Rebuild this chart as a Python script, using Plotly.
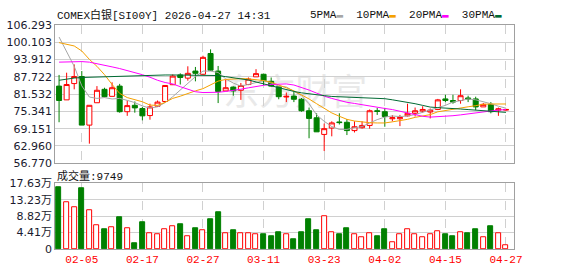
import plotly.graph_objects as go

dates = ["02-02", "02-03", "02-04", "02-05", "02-06", "02-09", "02-10", "02-11", "02-12", "02-13",
         "02-16", "02-17", "02-18", "02-19", "02-20", "02-23", "02-24", "02-25", "02-26", "02-27",
         "03-02", "03-03", "03-04", "03-05", "03-06", "03-09", "03-10", "03-11", "03-12", "03-13",
         "03-16", "03-17", "03-18", "03-19", "03-20", "03-23", "03-24", "03-25", "03-26", "03-27",
         "03-30", "03-31", "04-01", "04-02", "04-06", "04-07", "04-08", "04-09", "04-10", "04-13",
         "04-14", "04-15", "04-16", "04-17", "04-20", "04-21", "04-22", "04-23", "04-24", "04-27"]

opens = [84.41, 79.48, 85.32, 87.84, 70.43, 78.45, 83.26, 80.74, 84.41, 75.24,
         77.53, 76.38, 73.86, 77.20, 78.90, 84.90, 88.42, 87.27, 89.80, 88.65,
         96.09, 89.80, 82.69, 84.06, 82.92, 84.98, 87.73, 88.65, 86.12, 84.18,
         80.50, 80.85, 79.70, 75.58, 73.06, 67.10, 69.39, 71.57, 71.45, 68.47,
         69.50, 70.31, 75.58, 75.24, 72.71, 72.71, 73.75, 74.66, 75.47, 75.12,
         76.04, 79.82, 79.25, 79.25, 80.16, 79.82, 76.96, 77.87, 75.81, 75.81]
highs = [88.42, 89.22, 92.20, 89.80, 77.53, 84.41, 83.83, 85.78, 85.21, 79.25,
         78.90, 76.96, 78.10, 79.25, 84.63, 88.60, 88.99, 91.51, 91.28, 95.30,
         97.58, 91.63, 86.70, 84.30, 85.55, 87.50, 90.48, 88.88, 87.50, 84.41,
         82.11, 82.69, 80.16, 76.73, 74.66, 70.99, 71.80, 74.66, 72.60, 71.80,
         71.80, 76.04, 76.61, 76.61, 73.98, 74.09, 78.10, 76.73, 77.20, 76.38,
         79.82, 81.31, 81.31, 83.26, 80.97, 80.62, 78.33, 78.68, 76.73, 76.27]
lows = [71.46, 79.48, 83.26, 70.43, 63.78, 78.45, 80.40, 80.74, 74.89, 73.75,
        74.89, 72.14, 72.37, 76.96, 78.68, 84.80, 84.98, 86.35, 86.12, 88.42,
        89.80, 78.33, 82.69, 80.97, 79.48, 84.75, 87.73, 84.75, 84.18, 79.70,
        78.68, 78.68, 75.24, 65.72, 68.02, 61.14, 66.41, 70.65, 66.87, 67.80,
        69.16, 69.16, 74.09, 69.85, 71.80, 70.08, 73.52, 73.52, 74.89, 72.83,
        75.81, 78.68, 78.10, 78.10, 78.68, 75.81, 76.96, 74.66, 73.75, 75.58]
closes = [79.25, 84.98, 87.84, 70.43, 77.53, 82.92, 80.62, 83.83, 75.24, 77.42,
          76.61, 73.75, 76.96, 78.68, 84.63, 88.00, 87.50, 88.99, 88.99, 94.72,
          90.13, 82.46, 83.83, 82.69, 84.63, 86.93, 88.88, 86.35, 84.41, 80.62,
          80.74, 79.70, 75.58, 72.83, 68.02, 69.16, 71.22, 71.34, 68.47, 69.85,
          70.31, 75.58, 75.35, 73.52, 73.06, 73.17, 74.66, 75.58, 76.04, 75.81,
          79.48, 79.25, 78.68, 80.97, 79.82, 76.96, 77.87, 75.24, 76.27, 76.04]

ma5 = [102.0, 97.0, 91.5, 84.5, 80.5, 80.0, 80.3, 79.8, 80.0, 79.3,
       78.5, 77.3, 76.5, 77.0, 78.5, 80.6, 83.0, 85.5, 87.8, 89.8,
       89.8, 89.3, 87.0, 85.5, 84.4, 85.0, 85.8, 86.4, 85.5, 84.4,
       84.1, 82.7, 81.0, 78.1, 74.1, 71.8, 69.9, 68.9, 68.9, 69.5,
       69.9, 71.2, 72.4, 73.3, 73.7, 73.5, 73.7, 74.2, 75.1, 75.8,
       76.7, 77.5, 78.7, 79.2, 79.8, 79.5, 78.9, 78.1, 77.2, 76.5]
ma10 = [100.0, 99.3, 98.8, 97.0, 94.0, 91.5, 88.5, 85.0, 81.8, 80.3,
        79.6, 78.8, 77.6, 77.5, 78.6, 80.0, 80.8, 81.8, 82.7, 83.5,
        85.0, 86.2, 86.8, 87.0, 87.1, 87.0, 86.8, 86.4, 85.8, 84.9,
        83.8, 82.7, 81.3, 79.8, 78.1, 76.3, 74.8, 73.6, 72.5, 71.9,
        71.5, 71.3, 71.2, 71.2, 71.6, 72.0, 72.5, 73.2, 73.8, 74.2,
        75.2, 75.7, 76.0, 76.5, 77.0, 77.4, 77.9, 78.0, 78.0, 78.0]
ma20 = [93.0, 93.1, 93.3, 93.2, 93.0, 92.5, 92.0, 91.3, 90.7, 90.0,
        89.2, 88.5, 87.6, 86.5, 85.7, 85.2, 84.2, 83.2, 82.4, 82.1,
        82.1, 82.2, 82.5, 82.8, 83.3, 83.8, 84.3, 84.7, 85.0, 85.2,
        85.2, 84.8, 84.0, 83.0, 81.9, 80.8, 80.0, 79.3, 78.6, 78.2,
        77.7, 77.2, 76.8, 76.4, 76.0, 75.4, 74.9, 74.3, 73.6, 73.3,
        73.4, 73.5, 73.8, 74.1, 74.5, 74.9, 75.2, 75.5, 75.8, 76.0]
ma30 = [86.5, 87.0, 87.3, 87.5, 87.6, 87.7, 87.8, 87.9, 88.0, 88.1,
        88.2, 88.3, 88.3, 88.3, 88.4, 88.4, 88.4, 88.4, 88.4, 88.4,
        88.4, 88.2, 87.8, 87.4, 87.0, 86.6, 85.9, 85.2, 84.4, 83.7,
        83.1, 82.5, 82.0, 81.6, 81.3, 81.0, 80.7, 80.6, 80.4, 80.3,
        80.2, 80.1, 80.0, 79.9, 79.5, 79.1, 78.6, 78.1, 77.5, 76.9,
        76.7, 76.6, 76.5, 76.2, 76.0, 75.8, 75.6, 75.4, 75.1, 75.0]

# volume in 万 (10k lots)
volumes = [16.44, 12.60, 11.33, 16.18, 10.48, 6.47, 5.20, 5.88, 8.52, 5.62,
           1.62, 7.24, 4.34, 3.92, 5.37, 6.13, 6.73, 3.32, 5.62, 5.11,
           8.00, 9.79, 4.34, 4.94, 4.17, 4.34, 3.92, 3.92, 3.41, 4.60,
           4.09, 2.64, 4.60, 8.00, 4.94, 8.77, 4.60, 4.09, 5.45, 4.09,
           3.07, 4.34, 3.41, 5.20, 1.87, 3.83, 5.37, 3.92, 3.07, 3.92,
           4.85, 3.92, 3.41, 4.60, 4.17, 5.20, 3.07, 6.22, 4.34, 0.9749]

price_ticks = [56.770, 62.960, 69.151, 75.341, 81.532, 87.722, 93.912, 100.103, 106.293]
vol_ticks = [0, 4.41, 8.82, 13.23, 17.63]
vol_ticktext = ["0", "4.41万", "8.82万", "13.23万", "17.63万"]
date_tick_idx = [3, 11, 19, 27, 35, 43, 51, 59]
title_text = "COMEX白银[SI00Y] 2026-04-27 14:31"
last_volume_text = "9749"

RED = "#ff0000"
GREEN = "#008000"
W, H = 578, 276

xs = list(range(len(dates)))
up = [c >= o for o, c in zip(opens, closes)]

fig = go.Figure()

fig.add_trace(go.Candlestick(
    x=xs, open=opens, high=highs, low=lows, close=closes,
    xaxis="x", yaxis="y",
    increasing=dict(line=dict(color=RED, width=1), fillcolor="#ffffff"),
    decreasing=dict(line=dict(color=GREEN, width=1), fillcolor=GREEN),
    whiskerwidth=0, showlegend=False, hoverinfo="skip",
))

for vals, col in [(ma5, "#a6a6a6"), (ma10, "#f5a100"), (ma20, "#ff00ff"), (ma30, "#006a33")]:
    fig.add_trace(go.Scatter(x=xs, y=vals, mode="lines", line=dict(color=col, width=1),
                             xaxis="x", yaxis="y", showlegend=False, hoverinfo="skip"))

fig.add_trace(go.Bar(
    x=xs, y=volumes, xaxis="x2", yaxis="y2", width=0.66,
    marker=dict(color=["#ffffff" if u else GREEN for u in up],
                line=dict(color=[RED if u else GREEN for u in up], width=1)),
    showlegend=False, hoverinfo="skip",
))

xl, xr = 56 / W, 522 / W
xrange = [-0.52, len(dates) - 1 + 1.04]
date_ticktext = [dates[i] for i in date_tick_idx]

axis_common = dict(showline=True, mirror=True, linecolor="#a0a0a0", linewidth=1,
                   zeroline=False, ticks="", fixedrange=True)

fig.update_layout(
    width=W, height=H, margin=dict(l=0, r=0, t=0, b=0),
    paper_bgcolor="#ffffff", plot_bgcolor="#ffffff",
    boxgap=0.34, boxgroupgap=0, bargap=0,
    xaxis=dict(domain=[xl, xr], range=xrange, anchor="y", tickvals=date_tick_idx,
               showticklabels=False, showgrid=True, gridcolor="#d0d0d0", griddash="dash",
               rangeslider=dict(visible=False), **axis_common),
    yaxis=dict(domain=[(H - 165) / H, (H - 20) / H], range=[price_ticks[0], price_ticks[-1]],
               anchor="x", tickvals=price_ticks, ticktext=[f"{v:.3f}" for v in price_ticks],
               showgrid=True, gridcolor="#d0d0d0",
               tickfont=dict(family="DejaVu Sans", size=11, color="#1a1a2e"), **axis_common),
    xaxis2=dict(domain=[xl, xr], range=xrange, anchor="y2", tickvals=date_tick_idx,
                ticktext=date_ticktext, showgrid=True, gridcolor="#d0d0d0", griddash="dash",
                tickfont=dict(family="Liberation Mono", size=11, color=RED), **axis_common),
    yaxis2=dict(domain=[(H - 255) / H, (H - 186) / H], range=[0, vol_ticks[-1]], anchor="x2",
                tickvals=vol_ticks, ticktext=vol_ticktext, showgrid=True, gridcolor="#d0d0d0",
                tickfont=dict(family="DejaVu Sans, Noto Sans CJK SC", size=11, color="#1a1a2e"),
                **axis_common),
    shapes=[dict(type="rect", xref="paper", yref="paper",
                 x0=200 / W, x1=400 / W, y0=(H - 112) / H, y1=(H - 74) / H,
                 line=dict(width=0), fillcolor="rgba(0,0,0,0)", layer="below",
                 label=dict(text="东方财富", font=dict(family="Noto Sans CJK SC", size=36,
                                                     color="#e9e9e9"),
                            textposition="middle center"))],
)

mono = "Liberation Mono, Noto Sans CJK SC"
fig.add_annotation(xref="paper", yref="paper", x=56 / W, y=(H - 9) / H, xanchor="left",
                   yanchor="middle", text=title_text, showarrow=False,
                   font=dict(family=mono, size=11, color="#111111"))
legend_html = ("5PMA<span style='color:#a6a6a6'>▬</span>  10PMA<span style='color:#f5a100'>▬</span>  "
               "20PMA<span style='color:#ff00ff'>▬</span>  30PMA<span style='color:#006a33'>▬</span>")
fig.add_annotation(xref="paper", yref="paper", x=512 / W, y=(H - 9) / H, xanchor="right",
                   yanchor="middle", text=legend_html, showarrow=False,
                   font=dict(family=mono, size=11, color="#111111"))
fig.add_annotation(xref="paper", yref="paper", x=56 / W, y=(H - 178) / H, xanchor="left",
                   yanchor="middle", text="成交量:" + last_volume_text, showarrow=False,
                   font=dict(family=mono, size=11, color="#111111"))

fig.write_html("out.html")
